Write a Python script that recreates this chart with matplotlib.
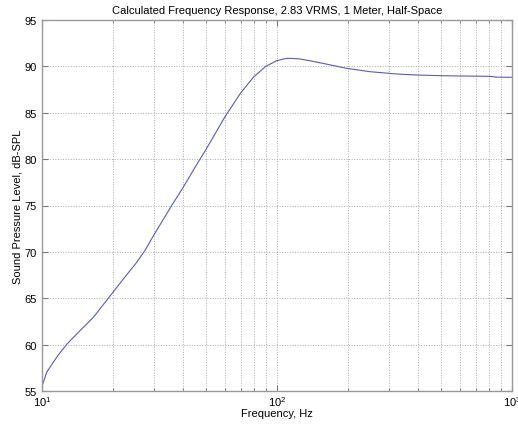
import numpy as np
import matplotlib
matplotlib.use('Agg')
import matplotlib.pyplot as plt
from matplotlib.ticker import LogLocator, NullFormatter

# values
freq = [10, 10.47, 11.17, 11.73, 12.74, 14.5, 16.54, 19.15, 22.2, 25.3, 27.5,
        29.8, 35.6, 39.9, 44.8, 50, 60.1, 69.9, 79.3, 89.5,
        99.7, 108, 113, 125, 142, 167, 198, 248, 323, 393, 494, 620, 806, 860, 1000]
spl = [55.5, 57.02, 58.1, 58.88, 60.03, 61.5, 62.94, 65.0, 67.08, 68.88, 70.2,
       71.74, 74.98, 76.96, 79.12, 81.09, 84.58, 87.1, 88.82, 90.0,
       90.61, 90.83, 90.87, 90.8, 90.55, 90.18, 89.79, 89.43, 89.18, 89.07, 89.0, 88.96, 88.93, 88.84, 88.82]

plt.rcParams['font.family'] = ['Liberation Sans', 'DejaVu Sans']

fig = plt.figure(figsize=(5.18, 4.27), dpi=100)
ax = fig.add_axes([42/518, 35/427, 470/518, 371/427])

ax.semilogx(freq, spl, color='#5c5cb4', linewidth=0.8)

ax.set_xlim(10, 1000)
ax.set_ylim(55, 95)
ax.set_yticks(range(55, 96, 5))
ax.xaxis.set_major_locator(LogLocator(base=10))
ax.xaxis.set_minor_locator(LogLocator(base=10, subs=np.arange(2, 10)))
ax.xaxis.set_minor_formatter(NullFormatter())

# matlab style grid and ticks
ax.grid(True, which='both', linestyle=':', color='#aaaaaa', linewidth=0.7)
ax.tick_params(which='both', direction='in', top=True, right=True,
               labelsize=8, color='#777777')
ax.tick_params(axis='x', pad=2)
ax.tick_params(axis='y', pad=4)
ax.tick_params(which='major', length=4)
ax.tick_params(which='minor', length=2)
for location in ['left', 'right', 'top', 'bottom']:
    ax.spines[location].set_color('#999999')
    ax.spines[location].set_linewidth(1.0)

ax.set_title('Calculated Frequency Response, 2.83 VRMS, 1 Meter, Half-Space',
             fontsize=8, pad=5)
ax.set_xlabel('Frequency, Hz', fontsize=8, labelpad=0)
ax.set_ylabel('Sound Pressure Level, dB-SPL', fontsize=8, labelpad=1)

fig.savefig('out.png', dpi=100)
